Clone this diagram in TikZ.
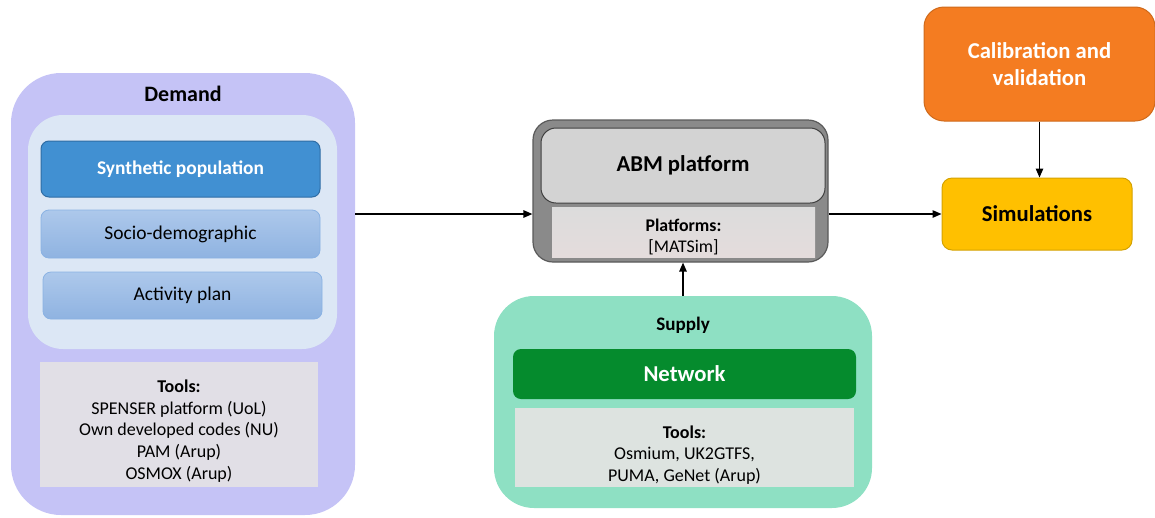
\documentclass[tikz,border=0pt]{standalone}
\usepackage{fontspec}
\setmainfont{Carlito}
\usetikzlibrary{arrows.meta}
\definecolor{demandc}{HTML}{C5C3F6}
\definecolor{innerc}{HTML}{DCE7F5}
\definecolor{synthc}{HTML}{4190D2}
\definecolor{synthb}{HTML}{2F6DA5}
\definecolor{lbtop}{HTML}{ADC8EB}
\definecolor{lbbot}{HTML}{8FB3E1}
\definecolor{lbbord}{HTML}{8AB2E3}
\definecolor{dtoolc}{HTML}{E1DFE6}
\definecolor{abmout}{HTML}{8A8A8A}
\definecolor{abmoutb}{HTML}{5A5A5A}
\definecolor{abmin}{HTML}{D3D3D3}
\definecolor{abminb}{HTML}{404040}
\definecolor{plattop}{HTML}{DCDCDC}
\definecolor{platbot}{HTML}{E4DCDC}
\definecolor{supplyc}{HTML}{8EE0C3}
\definecolor{netc}{HTML}{058B2D}
\definecolor{stoolc}{HTML}{DDE3E0}
\definecolor{calc}{HTML}{F47C21}
\definecolor{calb}{HTML}{CF6A1B}
\definecolor{simc}{HTML}{FFC000}
\definecolor{simb}{HTML}{D4A200}
\tikzset{
  box/.style={rectangle, inner sep=0pt, align=center},
  bigbold/.style={font=\fontsize{22.7}{27}\selectfont\bfseries},
  midbold/.style={font=\fontsize{19.4}{23}\selectfont\bfseries},
  midreg/.style={font=\fontsize{19.5}{23}\selectfont},
  toolstxt/.style={font=\fontsize{18}{21.75}\selectfont, align=center, inner sep=0pt},
  lbox/.style={box, draw=lbbord, line width=0.8pt, rounded corners=8pt, top color=lbtop, bottom color=lbbot, minimum width=279pt, minimum height=48pt, midreg},
  arr/.style={line width=1.3pt, -{Triangle[length=9pt,width=7.5pt]}}
}
\begin{document}
\begin{tikzpicture}[x=1pt,y=-1pt]
\useasboundingbox (0,0) rectangle (1155,517);
% Demand
\node[box, fill=demandc, rounded corners=50pt, minimum width=344pt, minimum height=442pt] (demand) at (183,294) {};
\node[box, font=\fontsize{22}{26}\selectfont\bfseries] (demandlbl) at (183,94) {Demand};
\node[box, fill=innerc, rounded corners=35pt, minimum width=309pt, minimum height=234pt] (inner) at (182.5,232) {};
\node[box, fill=synthc, draw=synthb, line width=1pt, rounded corners=8pt, minimum width=279pt, minimum height=56pt, midbold, text=white] (synth) at (180.5,169) {Synthetic population};
\node[lbox] (socio) at (180.5,234) {Socio-demographic};
\node[lbox, minimum height=47pt] (activity) at (182.5,295.5) {Activity plan};
\node[box, fill=dtoolc, minimum width=278pt, minimum height=125pt] (dtoolsbox) at (179,424.5) {};
\node[toolstxt] (dtools) at (179,431) {\textbf{Tools:}\\SPENSER platform (UoL)\\Own developed codes (NU)\\PAM (Arup)\\OSMOX (Arup)};
% ABM
\node[box, fill=abmout, draw=abmoutb, line width=1.2pt, rounded corners=20pt, minimum width=295pt, minimum height=142pt] (abm) at (680.5,191) {};
\node[box, fill=abmin, draw=abminb, line width=1pt, rounded corners=15pt, minimum width=284pt, minimum height=75pt, bigbold] (abmin) at (683,165.5) {ABM platform};
\node[box, top color=plattop, bottom color=platbot, minimum width=263pt, minimum height=50pt] (platbox) at (683.5,232) {};
\node[toolstxt, font=\fontsize{17.8}{21}\selectfont] (plattxt) at (683.5,236.5) {\textbf{Platforms:}\\{[MATSim]}};
% Supply
\node[box, fill=supplyc, rounded corners=40pt, minimum width=378pt, minimum height=212pt] (supply) at (683,402) {};
\node[box, font=\fontsize{19.1}{23}\selectfont\bfseries] (supplylbl) at (683,325) {Supply};
\node[box, fill=netc, rounded corners=8pt, minimum width=343pt, minimum height=50pt, bigbold, text=white] (net) at (684.5,374) {Network};
\node[box, fill=stoolc, minimum width=339pt, minimum height=79pt] (stoolsbox) at (684.5,447.5) {};
\node[toolstxt] (stools) at (684.5,455) {\textbf{Tools:}\\Osmium, UK2GTFS,\\PUMA, GeNet (Arup)};
% Calibration and Simulations
\node[box, fill=calc, draw=calb, line width=1pt, rounded corners=20pt, minimum width=231pt, minimum height=114pt, bigbold, text=white] (calib) at (1039.5,64) {Calibration and\\validation};
\node[box, fill=simc, draw=simb, line width=1pt, rounded corners=10pt, minimum width=190pt, minimum height=72pt, bigbold] (sim) at (1037,214) {Simulations};
% Connectors
\draw[arr] (demand.east |- sim) -- (abm.west |- sim);
\draw[arr] (abm.east |- sim) -- (sim.west);
\draw[arr] (calib.south) -- (calib.south |- sim.north);
\draw[arr] (supply.north) -- (supply.north |- abm.south);
\end{tikzpicture}
\end{document}
